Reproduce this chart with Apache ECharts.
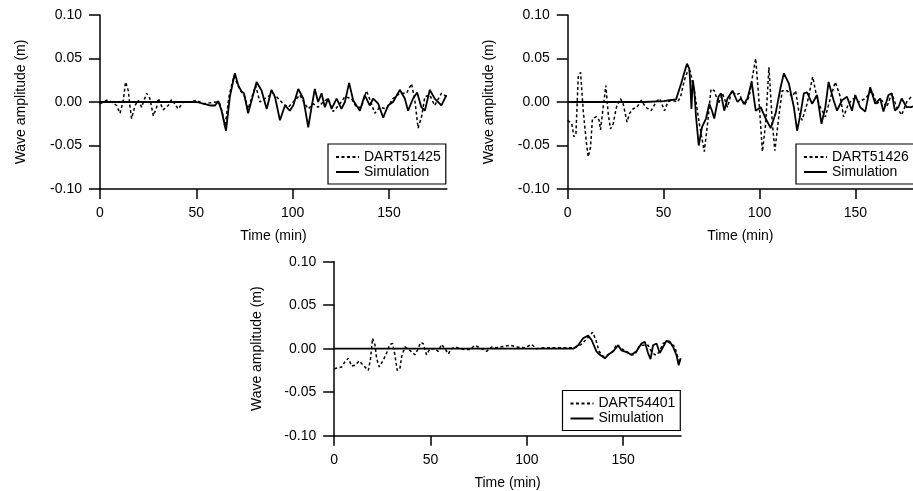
<!DOCTYPE html>
<html>
<head>
<meta charset="utf-8">
<script src="https://cdn.jsdelivr.net/npm/echarts@6/dist/echarts.min.js"></script>
<style>html,body{margin:0;padding:0;background:#fff}#c{width:913px;height:491px}</style>
</head>
<body>
<div id="c"></div>
<script>
// ---- Data (time in min, amplitude in m) ----
const xTicks = [0, 50, 100, 150];
const yTicks = [-0.10, -0.05, 0.00, 0.05, 0.10];
const stationNames = ['DART51425', 'DART51426', 'DART54401'];

const obs51425 = [[0,-0.002],[1.7,0],[3.5,0.002],[5.2,0.001],[6.9,-0.001],[8.6,-0.004],[10.4,-0.013],[12.1,0.002],[13.3,0.023],[14.7,0.013],[15.6,-0.006],[16.4,-0.019],[18.2,-0.004],[19.9,0.002],[21.6,-0.006],[24.2,0.010],[25.9,0.004],[27.7,-0.016],[29.4,-0.006],[30.3,0.004],[32.8,-0.009],[35.4,-0.004],[37.2,0.003],[40.6,-0.008],[43.2,0],[45.8,0],[48.4,0.001],[50.1,0.002],[53.6,-0.002],[57.1,-0.001],[60.5,0],[62.2,-0.002],[63.6,-0.013],[64.8,-0.029],[67.1,0.008],[69.5,0.030],[72.6,0.014],[75.2,0.006],[76.9,-0.008],[80.8,0.019],[83.0,0],[85.6,0.004],[89.9,0.010],[92.5,0.004],[95.1,-0.002],[97.7,-0.006],[100.3,0],[103.7,0.008],[106.3,-0.002],[108.1,-0.008],[110.6,-0.002],[113.2,-0.006],[115.8,0],[118.4,0.004],[121.0,-0.011],[124.5,-0.002],[127.1,0.006],[130.5,0.004],[133.1,-0.006],[135.7,-0.006],[138.3,0.013],[140.9,-0.002],[142.6,-0.013],[145.2,-0.006],[148.7,-0.008],[152.1,0.004],[155.6,0.010],[159.1,0.010],[161.7,0.021],[163.4,0.002],[165.1,-0.030],[166.9,-0.017],[168.6,0.006],[171.2,0.008],[173.7,-0.004],[177.2,0.010],[180,0.006]];
const sim51425 = [[0,0],[10,0],[20,0],[30,0],[40,0],[50.1,0],[53.6,-0.002],[57,-0.004],[59.7,-0.004],[61.4,0.001],[63.1,-0.010],[65.4,-0.033],[67.4,0.006],[70,0.033],[71.8,0.019],[73.5,0.012],[74.7,0.010],[76.9,-0.013],[79.2,0.006],[81.3,0.023],[83.9,0.013],[86.5,-0.008],[89.0,0.014],[90.8,0.006],[93.4,-0.021],[96.0,-0.004],[98.5,-0.010],[100.3,-0.004],[102.9,0.015],[105.5,0.004],[108.1,-0.029],[109.8,-0.006],[111.5,0.015],[113.2,0],[115.0,0.010],[116.7,-0.006],[118.4,0.004],[120.2,-0.008],[122.8,0.004],[125.3,-0.008],[127.1,0],[129.3,0.022],[131.4,0.002],[133.1,-0.004],[134.9,-0.010],[137.4,0.008],[140.0,-0.004],[141.8,0.004],[144.4,-0.002],[147.0,-0.018],[149.5,-0.004],[152.1,0],[155.6,0.014],[158.2,0.004],[159.9,-0.010],[162.5,0.004],[164.6,0.011],[166.8,-0.006],[168.6,-0.010],[171.2,0.014],[173.7,0.004],[177.2,-0.004],[179.8,0.008]];

const obs51426 = [[0,-0.021],[2.1,-0.025],[3.3,-0.040],[4.3,-0.036],[5.5,0.029],[6.7,0.034],[8.1,-0.010],[9.8,-0.048],[10.7,-0.063],[11.9,-0.052],[12.9,-0.019],[15.0,-0.017],[16.4,-0.021],[17.1,-0.032],[18.5,-0.006],[19.9,0.019],[21.1,-0.013],[22.3,-0.031],[23.7,-0.025],[25.4,-0.006],[27.5,0.004],[28.9,-0.002],[30.9,-0.023],[32.3,-0.013],[34.0,-0.008],[36.1,-0.006],[38.4,0.002],[40.6,-0.006],[43.5,-0.010],[46.1,0],[47.9,0.004],[50.5,-0.010],[52.2,0],[53.9,0.002],[57.4,0],[59.1,0.008],[60.8,0.025],[62.6,0.036],[63.8,0.036],[66.0,0.013],[68.6,-0.025],[71.2,-0.057],[72.9,-0.025],[74.7,0.015],[76.4,0.013],[78.6,-0.002],[80.7,0.010],[83.3,-0.006],[85.6,0.013],[87.6,0.008],[89.4,0.010],[92.0,-0.004],[94.6,0.006],[96.3,0.029],[98.0,0.050],[99.7,0.002],[101.5,-0.057],[103.2,-0.025],[104.9,0.040],[106.7,-0.025],[108.0,-0.056],[109.8,-0.021],[111.8,0.013],[114.4,0.013],[117.0,0.006],[118.8,0.013],[120.5,-0.011],[122.2,-0.021],[124.8,-0.002],[127.7,0.029],[130.0,0.004],[131.7,-0.006],[134.3,-0.017],[136.9,0.004],[139.5,0.023],[142.1,0.006],[143.8,-0.017],[146.4,-0.002],[149.0,0.004],[151.6,0],[155.1,0.004],[158.5,0.013],[161.1,-0.002],[163.7,0.002],[166.3,-0.006],[168.9,0.010],[171.5,-0.006],[174.1,-0.015],[176.7,0],[179.1,0.006],[180,0.006]];
const sim51426 = [[0,0],[10,0],[20,0],[30,0],[40,0],[50,0.001],[53.1,0.002],[56.5,0.003],[59.1,0.021],[60.8,0.034],[62.2,0.044],[63.4,0.038],[63.9,0.021],[64.5,-0.008],[65.2,0.025],[66.0,0.013],[66.9,-0.017],[68.3,-0.050],[70.0,-0.029],[72.1,-0.019],[73.8,-0.002],[75.2,-0.010],[76.4,-0.019],[78.6,0.006],[79.9,0.010],[81.6,-0.010],[83.3,0.004],[85.9,0.013],[88.5,0],[90.2,0.004],[92.0,-0.002],[93.7,0.004],[95.9,0.023],[98.0,-0.010],[100.6,-0.006],[103.2,-0.019],[105.8,-0.030],[108.4,-0.013],[111.0,0.017],[112.7,0.033],[115.3,0.021],[117.9,-0.006],[119.6,-0.033],[121.4,-0.013],[123.1,0.010],[124.8,0.011],[127.4,-0.002],[130.0,0.008],[132.3,-0.025],[134.3,-0.006],[136.0,0.023],[138.6,0.002],[140.4,-0.010],[143.0,0.002],[145.6,0.006],[148.2,-0.010],[149.9,0.008],[152.5,-0.006],[155.1,-0.011],[157.7,0.017],[160.3,-0.002],[162.9,0.004],[164.6,-0.011],[167.2,0.008],[168.9,0.010],[170.6,-0.010],[172.4,-0.006],[174.1,0.004],[176.7,-0.006],[179.1,-0.006],[180,-0.005]];

const obs54401 = [[0,-0.023],[3.9,-0.021],[5.6,-0.015],[7.3,-0.011],[9.1,-0.020],[10.8,-0.019],[13.0,-0.014],[15.1,-0.019],[17.7,-0.025],[18.9,-0.011],[19.9,0.012],[21.2,0.004],[22.0,-0.011],[23.4,-0.021],[25.5,-0.013],[27.2,-0.005],[28.9,0.005],[30.3,0.006],[31.5,-0.007],[32.7,-0.025],[34.1,-0.023],[35.0,-0.009],[36.7,0.002],[39.3,-0.002],[41.9,-0.007],[43.6,0],[44.8,0.007],[46.2,0.006],[47.9,-0.007],[49.7,0],[52.3,0],[54.0,-0.003],[55.7,0.005],[57.5,0],[59.2,-0.006],[60.9,0],[63.2,0.002],[65.2,0],[67.8,-0.001],[70.4,-0.001],[73.0,0.004],[75.6,0.001],[79.1,-0.003],[81.7,0.002],[84.3,0.001],[91.2,0.004],[94.6,0.002],[99.0,0.001],[102.4,0.005],[105.0,0],[108.5,0.001],[111.9,0.001],[116.3,0.001],[120.6,0.001],[124.9,0.001],[128.3,0.005],[131.8,0.013],[134.1,0.019],[135.8,0.010],[137.5,-0.003],[139.6,-0.009],[142.2,-0.007],[144.8,-0.003],[146.5,0.005],[149.1,0],[151.7,-0.003],[154.3,-0.007],[156.0,-0.007],[158.6,0.004],[161.2,0.004],[162.9,0.004],[164.6,-0.003],[166.4,-0.007],[167.6,-0.007],[169.0,-0.002],[170.7,0.006],[172.4,0.008],[175.0,0.006],[176.8,0.002],[178.5,-0.011],[179.4,-0.015]];
const sim54401 = [[0,0],[20,0],[40,0],[60,0],[80,0],[100,0],[120,0],[124,0],[126.6,0.004],[129.2,0.012],[131.8,0.015],[133.6,0.010],[136.1,-0.003],[137.9,-0.007],[140.5,-0.011],[142.2,-0.007],[144.8,-0.003],[147.4,0.004],[149.1,-0.002],[151.7,-0.004],[154.3,-0.007],[156.9,-0.003],[159.5,0.006],[161.2,0.008],[162.9,-0.005],[164.2,-0.012],[165.5,0.004],[167.3,0.006],[169.0,-0.005],[170.7,0.002],[172.4,0.009],[174.2,0.008],[175.9,0.002],[177.6,-0.007],[178.8,-0.019],[179.8,-0.011]];

// ---- Layout ----
const FONT = "'Liberation Sans', Arial, Helvetica, sans-serif";
const panels = [
  {left: 100,   top: 15,    nameGap: 72, legendLeft: 328, legendTop: 144},
  {left: 567.7, top: 15,    nameGap: 72, legendLeft: 796, legendTop: 144},
  {left: 334.2, top: 261.7, nameGap: 70, legendLeft: 562.5, legendTop: 390.5}
];
const obsData = [obs51425, obs51426, obs54401];
const simData = [sim51425, sim51426, sim54401];

const grids = [], xAxes = [], yAxes = [], series = [], legends = [];
panels.forEach((p, i) => {
  grids.push({left: p.left, top: p.top, width: 346.8, height: 174, containLabel: false});
  xAxes.push({
    type: 'value', gridIndex: i, min: 0, max: 180, interval: 50,
    name: 'Time (min)', nameLocation: 'middle', nameGap: 40,
    nameTextStyle: {fontSize: 14, color: '#000', fontFamily: FONT},
    axisLine: {onZero: false, lineStyle: {color: '#000', width: 1.5}},
    axisTick: {show: true, inside: false, length: 10, lineStyle: {color: '#000', width: 1.5}, customValues: xTicks},
    axisLabel: {fontSize: 14, color: '#000', fontFamily: FONT, margin: 17, customValues: xTicks},
    splitLine: {show: false}
  });
  yAxes.push({
    type: 'value', gridIndex: i, min: -0.1, max: 0.1, interval: 0.05,
    name: 'Wave amplitude (m)', nameLocation: 'middle', nameGap: p.nameGap,
    nameTextStyle: {fontSize: 14, color: '#000', fontFamily: FONT},
    axisLine: {show: true, onZero: false, lineStyle: {color: '#000', width: 1.5}},
    axisTick: {show: true, inside: false, length: 11, lineStyle: {color: '#000', width: 1.5}, customValues: yTicks},
    axisLabel: {fontSize: 14, color: '#000', fontFamily: FONT, margin: 18, customValues: yTicks,
      formatter: v => v.toFixed(2)},
    splitLine: {show: false}
  });
  series.push({
    name: 'Simulation', type: 'line', xAxisIndex: i, yAxisIndex: i, data: simData[i],
    symbol: 'none', smooth: false, lineStyle: {color: '#000', width: 1.8, type: 'solid'},
    itemStyle: {color: '#000'}, z: 2
  });
  series.push({
    name: stationNames[i], type: 'line', xAxisIndex: i, yAxisIndex: i, data: obsData[i],
    symbol: 'none', smooth: false, lineStyle: {color: '#000', width: 1.5, type: [3, 2.5]},
    itemStyle: {color: '#000'}, z: 3
  });
  legends.push({
    orient: 'vertical', left: p.legendLeft, top: p.legendTop,
    data: [stationNames[i], 'Simulation'], selectedMode: false,
    itemWidth: 23, itemHeight: 10, itemGap: 1,
    padding: [6, 5, 5, 7], borderColor: '#000', borderWidth: 1.2, backgroundColor: '#fff',
    itemStyle: {color: 'rgba(0,0,0,0)', borderColor: 'rgba(0,0,0,0)', borderWidth: 0, opacity: 0},
    textStyle: {fontSize: 14, color: '#000', fontFamily: FONT, lineHeight: 13}
  });
});

const chart = echarts.init(document.getElementById('c'), null, {renderer: 'canvas'});
chart.setOption({
  animation: false,
  backgroundColor: '#fff',
  grid: grids, xAxis: xAxes, yAxis: yAxes, series: series, legend: legends
});
</script>
</body>
</html>
